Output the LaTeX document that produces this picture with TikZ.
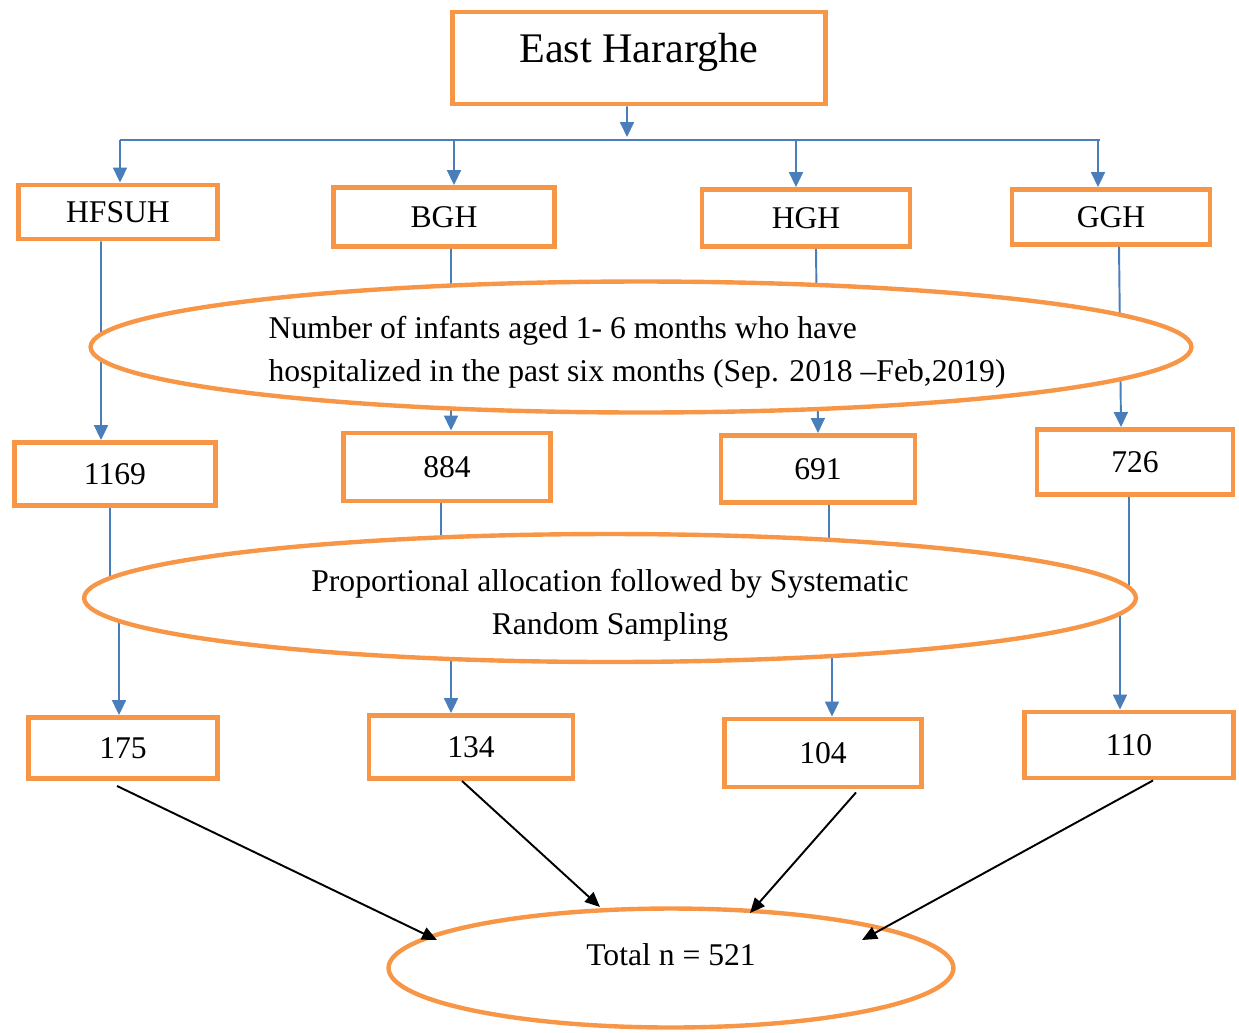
\documentclass[tikz,border=0pt]{standalone}
\usepackage{fontspec}
\setmainfont{Liberation Serif}
\usetikzlibrary{arrows.meta,calc,shapes.geometric}
\definecolor{boxorange}{HTML}{F79646}
\definecolor{linkblue}{HTML}{4A7EBB}
\tikzset{
    >=Stealth,
    chart/.style={
        x=0.02cm,y=-0.02cm,
        box/.style={align=center,draw=boxorange,line width=2.8pt,fill=white,rectangle,inner sep=0pt,font=\fontsize{18}{24}\selectfont},
        oval/.style={align=center,draw=boxorange,line width=2.5pt,fill=white,ellipse,inner sep=0pt,font=\fontsize{18}{24.5}\selectfont},
        ovaltext/.style={align=center,inner sep=0pt,font=\fontsize{18}{24.5}\selectfont},
        link/.style={draw=linkblue,line width=1.1pt,-{Triangle[length=0.3cm,width=0.28cm]}},
        feed/.style={draw=linkblue,line width=1.1pt},
        tally/.style={draw=black,line width=1.1pt,-{Triangle[length=0.3cm,width=0.26cm]}}
    }
}

\begin{document}
\begin{tikzpicture}[chart]
    \useasboundingbox (0,0) rectangle (1239,1032);
    % top level
    \node[box,minimum width=7.46cm,minimum height=1.84cm,font=\fontsize{24}{28}\selectfont,text height=0.62cm,text depth=0.46cm] (east) at (639,58) {East Hararghe};
    \node[box,minimum width=3.98cm,minimum height=1.08cm] (hfsuh) at (118,212) {HFSUH};
    \node[box,minimum width=4.42cm,minimum height=1.18cm] (bgh) at (444,217) {BGH};
    \node[box,minimum width=4.16cm,minimum height=1.14cm] (hgh) at (806,218) {HGH};
    \node[box,minimum width=3.96cm,minimum height=1.10cm] (ggh) at (1111,217) {GGH};
    % hospitalized counts
    \node[box,minimum width=4.02cm,minimum height=1.26cm] (n1169) at (115,474) {1169};
    \node[box,minimum width=4.14cm,minimum height=1.36cm] (n884) at (447,467) {884};
    \node[box,minimum width=3.88cm,minimum height=1.34cm] (n691) at (818,469) {691};
    \node[box,minimum width=3.92cm,minimum height=1.30cm] (n726) at (1135,462) {726};
    % samples
    \node[box,minimum width=3.78cm,minimum height=1.22cm] (n175) at (123,748) {175};
    \node[box,minimum width=4.08cm,minimum height=1.26cm] (n134) at (471,747) {134};
    \node[box,minimum width=3.94cm,minimum height=1.36cm] (n104) at (823,753) {104};
    \node[box,minimum width=4.18cm,minimum height=1.32cm] (n110) at (1129,745) {110};

    % fan out
    \coordinate (hub) at (627,140);
    \coordinate (mid2) at (0,598);
    \draw[link] ([xshift=-0.24cm]east.south) -- ([yshift=0.06cm]hub);
    \draw[feed] ([xshift=0.04cm]hfsuh.north |- hub) -- ([xshift=-0.22cm]ggh.north |- hub);
    \draw[link] ([xshift=0.04cm]hfsuh.north |- hub) -- ([xshift=0.04cm]hfsuh.north);
    \draw[link] ([xshift=0.2cm]bgh.north |- hub) -- ([xshift=0.2cm]bgh.north);
    \draw[link] ([xshift=-0.2cm]hgh.north |- hub) -- ([xshift=-0.2cm]hgh.north);
    \draw[link] ([xshift=-0.26cm]ggh.north |- hub) -- ([xshift=-0.26cm]ggh.north);

    % through the first oval
    \draw[link] ([xshift=-0.34cm]hfsuh.south) -- ([xshift=-0.28cm]n1169.north);
    \draw[link] ([xshift=0.14cm]bgh.south) -- ([xshift=0.08cm]n884.north);
    \draw[link] ([xshift=0.2cm]hgh.south) -- ([xshift=0.0cm]n691.north);
    \draw[link] ([xshift=0.16cm]ggh.south) -- ([xshift=-0.28cm]n726.north);

    % through the second oval
    \draw[link] ([xshift=-0.1cm]n1169.south) -- ([xshift=-0.1cm]n1169.south |- mid2) -| ([xshift=-0.08cm]n175.north);
    \draw[link] ([xshift=-0.12cm]n884.south) -- ([xshift=-0.12cm]n884.south |- mid2) -| ([xshift=-0.4cm]n134.north);
    \draw[link] ([xshift=0.22cm]n691.south) -- ([xshift=0.22cm]n691.south |- mid2) -| ([xshift=0.18cm]n104.north);
    \draw[link] ([xshift=-0.12cm]n726.south) -- ([xshift=-0.12cm]n726.south |- mid2) -| ([xshift=-0.18cm]n110.north);

    % ovals
    \node[oval,minimum width=22.02cm,minimum height=2.62cm,
        label={[ovaltext,align=left,xshift=-0.08cm,yshift=-0.11cm]center:{Number of infants aged 1- 6 months who have\\hospitalized in the past six months (Sep. 2018 –Feb,2019)}}] (cases) at (641,347) {};
    \node[oval,minimum width=21.04cm,minimum height=2.56cm,
        label={[ovaltext,yshift=-0.14cm]center:{Proportional allocation followed by Systematic\\Random Sampling}}] (alloc) at (610,598) {};
    \node[oval,minimum width=11.3cm,minimum height=2.38cm,text height=0.45cm,text depth=0.55cm] (total) at (671,968) {Total n = 521};

    % sums
    \draw[tally] ($(n175.south)+(-6,5)$) -- ($(total.center)+(-234,-28)$);
    \draw[tally] ($(n134.south)+(-9,0)$) -- ($(total.center)+(-71,-61)$);
    \draw[tally] ($(n104.south)+(33,3)$) -- ($(total.center)+(79,-55)$);
    \draw[tally] ($(n110.south)+(24,0)$) -- ($(total.center)+(191,-28)$);
\end{tikzpicture}
\end{document}
